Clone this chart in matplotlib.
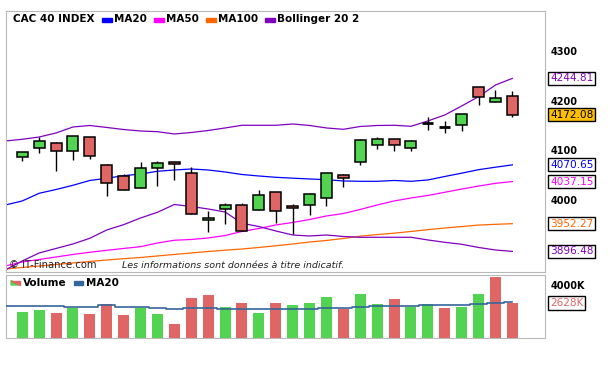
import numpy as np
import matplotlib.pyplot as plt
from matplotlib.patches import Rectangle, Polygon

# daily candles (30 sessions)
opens = [4086.0, 4104.1, 4114.2, 4098.0, 4126.2, 4069.9, 4047.7, 4023.6, 4063.8, 4075.9,
         4053.8, 3959.1, 3981.3, 3989.3, 3979.3, 4015.5, 3987.9, 3989.3, 4003.4, 4049.7,
         4075.9, 4110.1, 4122.2, 4104.1, 4155.6, 4147.6, 4150.4, 4226.9, 4196.7, 4208.8]
highs = [4097.0, 4126.8, 4116.8, 4128.5, 4126.5, 4072.5, 4051.7, 4076.5, 4078.5, 4076.0,
         4065.8, 3978.5, 3993.4, 3993.4, 4020.1, 4015.8, 3991.9, 4014.1, 4054.0, 4052.3,
         4123.4, 4126.2, 4122.5, 4120.2, 4166.5, 4158.4, 4173.0, 4227.2, 4221.5, 4218.8]
lows = [4079.1, 4095.2, 4059.0, 4081.1, 4083.1, 4008.7, 4019.5, 4023.6, 4028.8, 4040.9,
        3971.2, 3936.2, 3952.3, 3937.0, 3979.3, 3954.3, 3931.5, 3970.4, 3988.5, 4026.8,
        4071.1, 4103.3, 4099.3, 4099.3, 4141.5, 4134.3, 4138.3, 4190.7, 4196.7, 4166.5]
closes = [4096.0, 4118.2, 4098.0, 4128.2, 4088.0, 4033.6, 4019.5, 4063.8, 4073.9, 4071.9,
          3971.2, 3963.2, 3989.3, 3937.0, 4009.5, 3977.2, 3983.3, 4011.5, 4053.8, 4043.7,
          4120.2, 4122.2, 4110.1, 4118.2, 4155.6, 4147.6, 4172.5, 4207.4, 4204.8, 4172.08]

# indicators, first value is the session before the window
ma20 = [3989.9, 3998.0, 4013.5, 4021.1, 4029.6, 4039.3, 4043.7, 4048.9, 4052.3, 4057.8, 4060.4,
        4062.4, 4060.4, 4056.4, 4051.3, 4048.3, 4045.7, 4043.9, 4042.3, 4040.9, 4038.3,
        4037.6, 4037.6, 4039.3, 4037.6, 4040.3, 4047.3, 4054.0, 4061.0, 4066.0, 4070.65]
ma50 = [3867.1, 3875.2, 3880.2, 3885.2, 3890.3, 3894.7, 3898.7, 3902.4, 3906.0, 3913.4, 3918.9,
        3920.5, 3923.5, 3928.5, 3936.6, 3942.6, 3949.7, 3954.7, 3960.7, 3967.8, 3972.8,
        3980.9, 3989.9, 3998.0, 4004.0, 4009.1, 4015.5, 4022.0, 4028.0, 4033.5, 4037.15]
ma100 = [3861.1, 3864.1, 3867.1, 3870.1, 3873.2, 3876.2, 3879.2, 3881.8, 3884.2, 3887.3, 3890.3,
         3893.3, 3896.3, 3898.9, 3901.3, 3904.4, 3907.8, 3911.4, 3915.4, 3918.5, 3922.5,
         3927.1, 3930.3, 3933.2, 3936.6, 3940.2, 3943.6, 3946.4, 3949.5, 3951.0, 3952.27]
bb_up = [4118.8, 4122.2, 4126.8, 4134.9, 4147.0, 4150.0, 4146.0, 4141.9, 4138.9, 4137.5, 4132.9,
         4135.9, 4139.9, 4145.0, 4150.4, 4150.4, 4150.4, 4153.0, 4150.0, 4145.0, 4142.3,
         4148.0, 4150.0, 4150.4, 4148.4, 4159.1, 4171.1, 4189.3, 4208.0, 4231.5, 4244.81]
bb_low = [3859.1, 3877.2, 3893.3, 3902.4, 3911.4, 3922.9, 3939.6, 3950.3, 3963.8, 3975.2, 3990.9,
          3986.9, 3981.9, 3975.8, 3953.1, 3946.6, 3937.6, 3929.5, 3927.5, 3929.5, 3926.5,
          3924.9, 3924.9, 3924.9, 3924.9, 3919.5, 3914.8, 3910.8, 3904.4, 3899.3, 3896.48]

# volume in thousands, up = close above previous close
volume = [1952, 2103, 1877, 2275, 1802, 2553, 1727, 2275, 1802, 1051,
          3004, 3229, 2328, 2628, 1877, 2628, 2478, 2628, 3079, 2200,
          3304, 2553, 2929, 2328, 2553, 2253, 2328, 3304, 4603, 2628]
vol_up = [1, 1, 0, 1, 0, 0, 0, 1, 1, 0, 0, 0, 1, 0, 1, 0, 1, 1, 1, 0,
          1, 1, 0, 1, 1, 0, 1, 1, 0, 0]
vol_ma20 = [2403, 2403, 2403, 2403, 2330, 2305, 2455, 2305, 2305, 2230, 2155,
            2230, 2230, 2180, 2155, 2155, 2155, 2155, 2155, 2230, 2230,
            2305, 2380, 2380, 2380, 2455, 2455, 2455, 2530, 2600, 2726]

GREEN = '#52d452'
RED = '#e06666'
GRID = '#b8b8b8'
W, H = 610, 366


def fx(px):
    return px / W


def fy(py):
    return 1 - py / H


fig = plt.figure(figsize=(6.1, 3.66), dpi=100)
ax = fig.add_axes([fx(6), fy(272), fx(545) - fx(6), fy(11) - fy(272)])
axv = fig.add_axes([fx(6), fy(338), fx(545) - fx(6), fy(275) - fy(338)])

n = len(closes)
x = np.arange(n)
xl = np.arange(-1, n)

# indicator lines
ax.plot(xl, ma20, color='#0000ff', lw=0.9, zorder=1)
ax.plot(xl, ma50, color='#ff00ff', lw=0.9, zorder=1)
ax.plot(xl, ma100, color='#ff6600', lw=0.9, zorder=1)
ax.plot(xl, bb_up, color='#8000c0', lw=0.9, zorder=1)
ax.plot(xl, bb_low, color='#8000c0', lw=0.9, zorder=1)

# candles
for i in range(n):
    o, h, l, c = opens[i], highs[i], lows[i], closes[i]
    ax.vlines(i, l, h, color='black', lw=1, zorder=2)
    if o == c:
        ax.hlines(o, i - 0.33, i + 0.33, color='black', lw=2, zorder=3)
    else:
        col = GREEN if c > o else RED
        ax.bar(i, c - o, bottom=o, width=0.65, color=col, edgecolor='black', lw=1.1, zorder=3)

ax.set_xlim(-0.96, 30.93)
ax.set_ylim(3855, 4380.5)
ax.set_xticks([])
ax.yaxis.tick_right()
ax.set_yticks([4000, 4100, 4200, 4300])
ax.set_yticklabels(['4000', '4100', '4200', '4300'], fontsize=7, fontweight='bold')
ax.tick_params(axis='y', length=0, pad=4)
for s in ax.spines.values():
    s.set_color(GRID)

# value boxes on the right
last_vals = [(bb_up[-1], '4244.81', '#8000c0', 'white'),
             (closes[-1], '4172.08', 'black', '#ffc000'),
             (ma20[-1], '4070.65', '#0000ff', 'white'),
             (ma50[-1], '4037.15', '#ff00ff', 'white'),
             (ma100[-1], '3952.27', '#ff6600', 'white'),
             (bb_low[-1], '3896.48', '#8000c0', 'white')]
for val, txt, tc, fc in last_vals:
    ax.text((550 - 6) / 539, val, txt, transform=ax.get_yaxis_transform(), ha='left', va='center',
            fontsize=7.6, color=tc,
            bbox=dict(boxstyle='square,pad=0.15', fc=fc, ec='black', lw=1))

# volume panel
vcols = [GREEN if u else RED for u in vol_up]
axv.bar(x, volume, width=0.65, color=vcols, zorder=2)
axv.step(xl, vol_ma20, where='mid', color='#336699', lw=1.2, zorder=3)
axv.set_xlim(-0.96, 30.93)
axv.set_ylim(0, 4731)
axv.set_xticks([])
axv.yaxis.tick_right()
axv.set_yticks([4000])
axv.set_yticklabels(['4000K'], fontsize=7, fontweight='bold')
axv.tick_params(axis='y', length=0, pad=4)
for s in axv.spines.values():
    s.set_color(GRID)
axv.text((550 - 6) / 539, volume[-1], '2628K', transform=axv.get_yaxis_transform(), ha='left',
         va='center', fontsize=7.6, color=RED,
         bbox=dict(boxstyle='square,pad=0.15', fc='white', ec='black', lw=1))

# top legend
fig.text(fx(13), fy(19.5), 'CAC 40 INDEX', fontsize=7.5, fontweight='bold', va='center')
leg = [(102, 'MA20', '#0000ff'), (154, 'MA50', '#ff00ff'),
       (206, 'MA100', '#ff6600'), (265, 'Bollinger 20 2', '#8000c0')]
for px, lab, col in leg:
    fig.patches.append(Rectangle((fx(px), fy(22)), fx(10), 4.5 / H, color=col,
                                 transform=fig.transFigure))
    fig.text(fx(px + 12), fy(19.5), lab, fontsize=7.5, fontweight='bold', va='center')

# source line
fig.text(fx(9), fy(265.5), '© IT-Finance.com', fontsize=7.2, va='center', color='#222222')
fig.text(fx(122), fy(265.5), 'Les informations sont données à titre indicatif.', fontsize=6.8,
         style='italic', va='center', color='#222222')

# volume legend
fig.patches.append(Polygon([(fx(11), fy(285)), (fx(20), fy(285)), (fx(11), fy(280.5))],
                           closed=True, color=GREEN, transform=fig.transFigure))
fig.patches.append(Polygon([(fx(20), fy(285)), (fx(20), fy(280.5)), (fx(11), fy(280.5))],
                           closed=True, color=RED, transform=fig.transFigure))
fig.text(fx(23), fy(282.7), 'Volume', fontsize=7.5, fontweight='bold', va='center')
fig.patches.append(Rectangle((fx(74), fy(285)), fx(9), 4.5 / H, color='#336699',
                             transform=fig.transFigure))
fig.text(fx(86), fy(282.7), 'MA20', fontsize=7.5, fontweight='bold', va='center')

fig.savefig('out.png', dpi=100)
